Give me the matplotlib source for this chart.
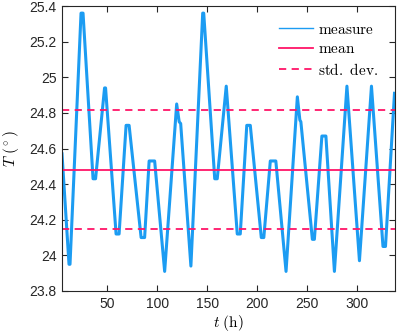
"""Temperature measurement over time with mean and std. dev. lines."""

import matplotlib
matplotlib.use("Agg")
import matplotlib.pyplot as plt
from matplotlib.lines import Line2D

plt.rcParams["mathtext.fontset"] = "cm"
plt.rcParams["font.family"] = ["Liberation Sans", "DejaVu Sans"]

# keypoints of the measured curve (hours, degrees)
t_h = [5, 12, 13, 24, 26, 36, 38.5, 47.5, 48.5, 59, 62, 69, 72, 84, 87.5,
       92, 97.5, 107.5, 119.5, 122, 123.5, 133.7, 145.5, 146.5, 157.5, 160,
       169, 180, 183, 189.5, 193, 204, 206.5, 213, 218.5, 228.7, 240, 242.5,
       243.5, 255, 257, 264.5, 268.5, 277, 289.5, 302, 314, 325.5, 328, 337]
temp = [24.57, 23.95, 23.95, 25.36, 25.36, 24.43, 24.43, 24.94, 24.94, 24.12,
        24.12, 24.73, 24.73, 24.10, 24.10, 24.53, 24.53, 23.91, 24.85, 24.75,
        24.74, 23.94, 25.36, 25.36, 24.43, 24.43, 24.95, 24.12, 24.12, 24.73,
        24.73, 24.10, 24.10, 24.53, 24.53, 23.91, 24.89, 24.76, 24.75, 24.09,
        24.09, 24.67, 24.67, 23.91, 24.95, 23.97, 24.95, 24.05, 24.05, 24.91]
mean_T = 24.48
std_lo = 24.15
std_hi = 24.815

x_ticks = [50, 100, 150, 200, 250, 300]
y_ticks = [23.8, 24.0, 24.2, 24.4, 24.6, 24.8, 25.0, 25.2, 25.4]
y_labels = ["23.8", "24", "24.2", "24.4", "24.6", "24.8", "25", "25.2", "25.4"]

BLUE = "#1C9CF2"
PINK = "#FF1568"

fig = plt.figure(figsize=(3.99, 3.36), dpi=100)
ax = fig.add_axes([62 / 399, 45 / 336, 332.5 / 399, 285 / 336])

ax.plot(t_h, temp, color=BLUE, lw=2.2, solid_joinstyle="round")
ax.axhline(mean_T, color=PINK, lw=1.3)
ax.axhline(std_lo, color=PINK, lw=1.3, ls=(0, (4, 3)))
ax.axhline(std_hi, color=PINK, lw=1.3, ls=(0, (4, 3)))

ax.set_xlim(5, 337)
ax.set_ylim(23.8, 25.4)
ax.set_xticks(x_ticks)
ax.set_yticks(y_ticks)
ax.set_yticklabels(y_labels)
ax.tick_params(direction="in", top=True, right=True, length=4, width=0.8,
               labelsize=10, colors="#262626", pad=4)
for sp in ax.spines.values():
    sp.set_color("#262626")
    sp.set_linewidth(0.8)

ax.set_xlabel(r"$t\ \mathrm{(h)}$", fontsize=11, labelpad=2)
ax.set_ylabel(r"$T\ (^\circ)$", fontsize=11, labelpad=6)

handles = [
    Line2D([], [], color=BLUE, lw=1.0),
    Line2D([], [], color=PINK, lw=1.3),
    Line2D([], [], color=PINK, lw=1.3, ls=(0, (4, 3))),
]
labels = [r"$\mathrm{measure}$", r"$\mathrm{mean}$", r"$\mathrm{std.\ dev.}$"]
ax.legend(handles, labels, loc="upper right", frameon=False, fontsize=11,
          handlelength=2.2, handletextpad=0.3, labelspacing=0.35,
          bbox_to_anchor=(1.0, 1.0), borderaxespad=0.7)

fig.savefig("out.png", dpi=100)
